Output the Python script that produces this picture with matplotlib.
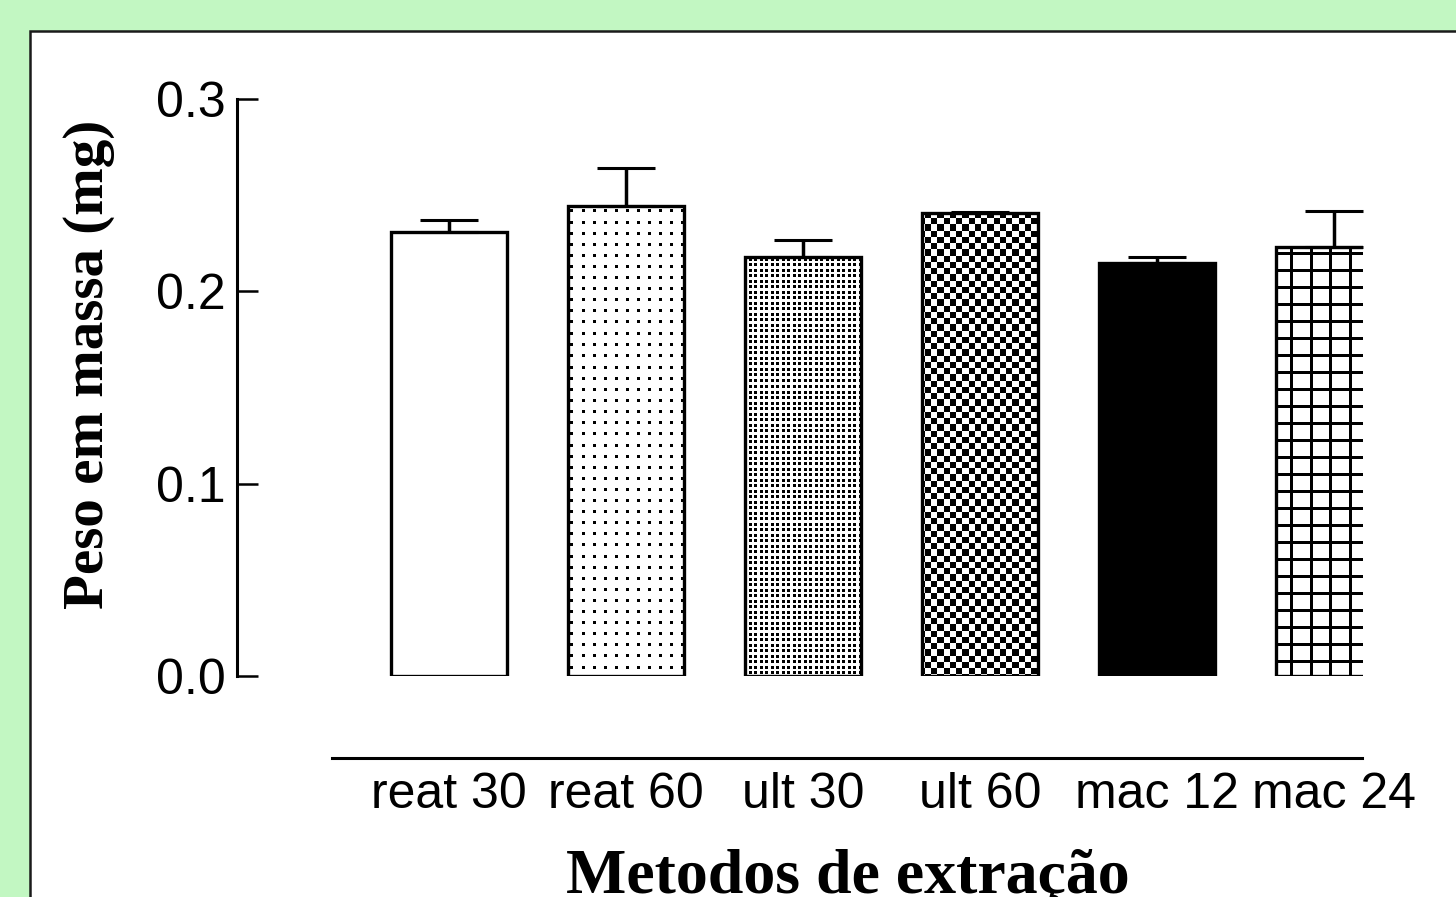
import matplotlib
matplotlib.use('Agg')
import matplotlib.pyplot as plt
from matplotlib.patches import Rectangle
import numpy as np

# values
methods = ['reat 30', 'reat 60', 'ult 30', 'ult 60', 'mac 12', 'mac 24']
mean_mass = [0.231, 0.2445, 0.218, 0.2405, 0.2145, 0.223]
err_mass = [0.0062, 0.0197, 0.0088, 0.001, 0.0036, 0.0188]
fills = ['white', 'sparse_dots', 'dense_dots', 'checker', 'black', 'grid']

W, H = 1456, 897
fig = plt.figure(figsize=(W / 100, H / 100), dpi=100)
fig.patch.set_facecolor('#c2f7c2')

# white panel with dark border, running off the right/bottom edges
fig.patches.append(Rectangle((30 / W, -0.1), 1.1, 1 - 31.5 / H + 0.1,
                             transform=fig.transFigure, facecolor='white',
                             edgecolor='#1a1a1a', linewidth=1.8, zorder=-5))

ax = fig.add_axes([237 / W, (H - 676) / H, 1126 / W, 577 / H])
ax.set_facecolor('none')
ax.set_zorder(2)

x = np.arange(len(methods))
ax.set_xlim(-1.198, 5.164)
ax.set_ylim(0, 0.3)


def texture(kind, h, w):
    # black/white fill pattern on the pixel grid of the axes
    yy, xx = np.indices((h, w))
    if kind == 'sparse_dots':
        on = ((xx % 11.1) < 3) & ((yy % 11.1) < 3)
    elif kind == 'dense_dots':
        on = ((xx % 5.5) < 3) & ((yy % 5.5) < 3)
    elif kind == 'checker':
        on = ((xx // 6.25 + yy // 6.25) % 2) == 0
    else:  # grid
        on = ((xx % 19.5) < 2.8) | ((yy % 17) < 2.8)
    return np.where(on, 0.0, 1.0)


facecolors = []
for f in fills:
    if f == 'white':
        facecolors.append('white')
    elif f == 'black':
        facecolors.append('black')
    else:
        facecolors.append('none')

bars = ax.bar(x, mean_mass, width=0.655, color=facecolors, edgecolor='black',
              linewidth=2.4, zorder=3)

ph = int(round(ax.bbox.height))
pw = int(round(ax.bbox.width))
ext = (*ax.get_xlim(), *ax.get_ylim())
for bar, f in zip(bars, fills):
    if f in ('white', 'black'):
        continue
    im = ax.imshow(texture(f, ph, pw), cmap='gray', vmin=0, vmax=1,
                   extent=ext, origin='upper', aspect='auto',
                   interpolation='nearest', zorder=2)
    im.set_clip_path(bar)

ax.errorbar(x, mean_mass, yerr=[np.zeros(len(x)), err_mass], fmt='none',
            ecolor='black', elinewidth=2.5, capsize=21, capthick=2.2, zorder=4)

ax.set_xlim(-1.198, 5.164)
ax.set_ylim(0, 0.3)

# axes styling
for s in ['top', 'right']:
    ax.spines[s].set_visible(False)
ax.spines['left'].set_linewidth(2.2)
ax.spines['bottom'].set_linewidth(2.2)
ax.spines['bottom'].set_position(('outward', 59))
ax.spines['bottom'].set_bounds(-0.661, 5.158)

ax.set_yticks([0.0, 0.1, 0.2, 0.3])
ax.set_yticklabels(['0.0', '0.1', '0.2', '0.3'])
ax.tick_params(axis='y', direction='in', length=15, width=1.8, pad=8,
               labelsize=36)
ax.set_xticks(x, methods)
ax.tick_params(axis='x', length=0, pad=10, labelsize=36)
for lab in ax.get_xticklabels() + ax.get_yticklabels():
    lab.set_fontfamily('Liberation Sans')

fig.text(103 / W, 1 - 364.5 / H, 'Peso em massa (mg)', rotation=90,
         rotation_mode='anchor', ha='center', va='baseline',
         fontsize=41, fontweight='bold', family='Liberation Serif')
fig.text(848 / W, 1 - 893 / H, 'Metodos de extração', ha='center',
         va='baseline', fontsize=46, fontweight='bold',
         family='Liberation Serif')

plt.savefig('out.png', dpi=100)
